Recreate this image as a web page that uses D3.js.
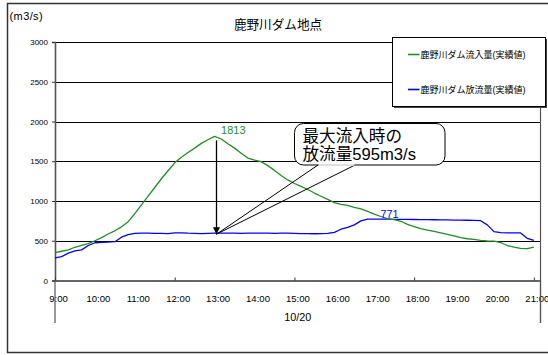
<!DOCTYPE html>
<html lang="ja">
<head>
<meta charset="utf-8">
<script src="https://cdn.jsdelivr.net/npm/d3@7"></script>
<style>
  html, body { margin: 0; padding: 0; background: #fff; }
  svg { display: block; }
  text { font-family: "Liberation Sans", "Noto Sans CJK JP", sans-serif; }
</style>
</head>
<body>
<div id="chart"></div>
<script>
// 10-minute observations, 10/20 9:00 – 21:00 (m3/s)
const startTime = "09:00";
const stepMinutes = 10;
const inflow = [
  350, 368, 385, 418, 443, 465,
  500, 540, 585, 625, 675, 740,
  840, 950, 1060, 1170, 1280, 1380,
  1480, 1550, 1610, 1665, 1725, 1770,
  1813, 1780, 1720, 1665, 1600, 1540,
  1515, 1495, 1445, 1385, 1320, 1265,
  1220, 1185, 1145, 1100, 1060, 1020,
  980, 958, 945, 920, 900, 870,
  835, 805, 778, 765, 745, 705,
  678, 652, 635, 618, 600, 580,
  560, 538, 525, 518, 505, 497,
  495, 478, 440, 420, 405, 400,
  420
];
const outflow = [
  285, 300, 345, 372, 385, 440,
  475, 480, 482, 488, 545, 578,
  592, 595, 595, 594, 592, 590,
  600, 598, 595, 594, 590, 592,
  595, 596, 595, 595, 594, 595,
  596, 595, 595, 594, 595, 595,
  592, 590, 590, 588, 590, 592,
  605, 645, 668, 700, 750, 771,
  771, 771, 771, 770, 770, 769,
  767, 766, 765, 764, 763, 762,
  760, 759, 758, 756, 752, 700,
  615, 602, 600, 600, 598, 530,
  505
];
const yTicks = [0, 500, 1000, 1500, 2000, 2500, 3000];
const hourLabels = ["9:00","10:00","11:00","12:00","13:00","14:00","15:00","16:00","17:00","18:00","19:00","20:00","21:00"];
const dateLabel = "10/20";
const titleText = "鹿野川ダム地点";
const unitText = "(m3/s)";
const seriesNames = ["鹿野川ダム流入量(実績値)", "鹿野川ダム放流量(実績値)"];
const calloutLines = ["最大流入時の", "放流量595m3/s"];

const W = 548, H = 355;
const green = "#1f8f1f", blue = "#0000ff";

const parseT = d3.timeParse("%Y-%m-%d %H:%M");
const t0 = parseT("2000-10-20 " + startTime);
const timeAt = i => d3.timeMinute.offset(t0, i * stepMinutes);
const tEnd = d3.timeMinute.offset(t0, 730);

const x = d3.scaleTime().domain([t0, tEnd]).range([55, 540.5]);
const y = d3.scaleLinear().domain([0, 3000]).range([280.5, 42]);

const svg = d3.select("#chart").append("svg").attr("width", W).attr("height", H);

// chart frame
svg.append("rect").attr("x", 7.5).attr("y", 3.5).attr("width", 600).attr("height", 349)
  .attr("fill", "#fff").attr("stroke", "#333").attr("stroke-width", 1.5);

// title and unit
svg.append("text").attr("x", 278).attr("y", 28.5).attr("text-anchor", "middle")
  .attr("font-size", 12.6).attr("fill", "#000").text(titleText);
svg.append("text").attr("x", 9.5).attr("y", 19.5).attr("font-size", 11)
  .attr("letter-spacing", 0.4).attr("fill", "#000").text(unitText);

// horizontal gridlines
svg.append("g").selectAll("line").data(yTicks.filter(v => v > 0)).join("line")
  .attr("x1", x.range()[0]).attr("x2", x.range()[1])
  .attr("y1", d => Math.round(y(d)) + 0.5).attr("y2", d => Math.round(y(d)) + 0.5)
  .attr("stroke", "#000").attr("stroke-width", 1);

// plot right border
svg.append("line").attr("x1", 540.5).attr("x2", 540.5).attr("y1", y(3000)).attr("y2", 323)
  .attr("stroke", "#555").attr("stroke-width", 1.2);

// y axis
const yAxis = d3.axisLeft(y).tickValues(yTicks).tickFormat(d3.format("d")).tickSize(3).tickPadding(4);
const gy = svg.append("g").attr("transform", "translate(55,0)").call(yAxis);
gy.select(".domain").attr("stroke", "#555").attr("stroke-width", 1.6);
gy.selectAll(".tick line").attr("stroke", "#333");
gy.selectAll(".tick text").attr("font-size", 8).attr("font-family", "Liberation Sans, sans-serif")
  .attr("fill", "#000");

// x axis: major ticks every 3 hours, hourly labels
const hourTimes = hourLabels.map((_, i) => d3.timeHour.offset(t0, i));
const xAxis = d3.axisBottom(x).tickValues(hourTimes.filter((_, i) => i % 3 === 0))
  .tickSize(-3).tickFormat("").tickSizeOuter(0);
const gx = svg.append("g").attr("transform", "translate(0,280.5)").call(xAxis);
gx.select(".domain").attr("stroke", "#333").attr("stroke-width", 1.6);
gx.selectAll(".tick line").attr("stroke", "#333");

svg.append("g").selectAll("text").data(hourLabels).join("text")
  .attr("x", (d, i) => x(hourTimes[i]) + 3.5).attr("y", 301.5)
  .attr("text-anchor", "middle").attr("font-size", 9.6).attr("fill", "#000").text(d => d);

// date group dividers and label
svg.append("g").selectAll("line").data([x.range()[0], 540.5]).join("line")
  .attr("x1", d => d).attr("x2", d => d).attr("y1", 280).attr("y2", 323)
  .attr("stroke", "#555").attr("stroke-width", 1.2);
svg.append("text").attr("x", (x.range()[0] + 540.5) / 2).attr("y", 320.5)
  .attr("text-anchor", "middle").attr("font-size", 10.8).attr("fill", "#000").text(dateLabel);

// series lines
const line = d3.line().x((d, i) => x(timeAt(i))).y(d => y(d));
svg.append("path").datum(outflow).attr("d", line).attr("fill", "none")
  .attr("stroke", blue).attr("stroke-width", 1.3).attr("stroke-linejoin", "round");
svg.append("path").datum(inflow).attr("d", line).attr("fill", "none")
  .attr("stroke", green).attr("stroke-width", 1.3).attr("stroke-linejoin", "round");

// value labels
const peakIdx = inflow.indexOf(d3.max(inflow));
const peakT = timeAt(peakIdx);
svg.append("text").attr("x", x(peakT) + 6.5).attr("y", 134).attr("font-size", 11)
  .attr("fill", green).text(d3.max(inflow));
const outMax = d3.max(outflow);
const outMaxIdx = outflow.indexOf(outMax);
svg.append("text").attr("x", x(timeAt(outMaxIdx)) + 22).attr("y", 217.5)
  .attr("text-anchor", "middle").attr("font-size", 10.8).attr("fill", blue).text(outMax);

// arrow from peak inflow down to the outflow at that time
const ax = Math.round(x(peakT)) + 1.5;
const tipY = y(outflow[peakIdx]) + 1;
svg.append("defs").append("marker").attr("id", "arrowhead")
  .attr("viewBox", "0 0 10 10").attr("refX", 10).attr("refY", 5)
  .attr("markerWidth", 7).attr("markerHeight", 7).attr("markerUnits", "userSpaceOnUse")
  .attr("orient", "auto")
  .append("path").attr("d", "M0,0 L10,5 L0,10 Z").attr("fill", "#000");
svg.append("line").attr("x1", ax).attr("x2", ax).attr("y1", y(inflow[peakIdx]) + 4).attr("y2", tipY)
  .attr("stroke", "#000").attr("stroke-width", 1.3).attr("marker-end", "url(#arrowhead)");

// callout: rounded box with a wedge pointing at the arrow tip
const box = { x: 294.5, y: 123.5, w: 150.5, h: 41.5, r: 9 };
svg.append("rect").attr("x", box.x).attr("y", box.y).attr("width", box.w).attr("height", box.h)
  .attr("rx", box.r).attr("fill", "#fff").attr("stroke", "#000").attr("stroke-width", 1);
svg.append("path")
  .attr("d", `M318,${box.y + box.h} L${ax},${tipY} L355,${box.y + box.h}`)
  .attr("fill", "none").attr("stroke", "#000").attr("stroke-width", 1);
svg.append("line").attr("x1", 318.5).attr("x2", 354.5).attr("y1", box.y + box.h).attr("y2", box.y + box.h)
  .attr("stroke", "#fff").attr("stroke-width", 1.6);
svg.append("g").selectAll("text").data(calloutLines).join("text")
  .attr("x", 302.5).attr("y", (d, i) => 141.5 + i * 18.3)
  .attr("font-size", 16.6).attr("fill", "#000").text(d => d);

// legend
const lg = svg.append("g");
lg.append("rect").attr("x", 394).attr("y", 39).attr("width", 153).attr("height", 69).attr("fill", "#444");
lg.append("rect").attr("x", 392.5).attr("y", 37.5).attr("width", 153).attr("height", 69)
  .attr("fill", "#fff").attr("stroke", "#000").attr("stroke-width", 1);
const legendRows = [{ name: seriesNames[0], color: green, y: 54.5 }, { name: seriesNames[1], color: blue, y: 89.5 }];
legendRows.forEach(r => {
  lg.append("line").attr("x1", 408).attr("x2", 419.5).attr("y1", r.y).attr("y2", r.y)
    .attr("stroke", r.color).attr("stroke-width", 1.6);
  lg.append("text").attr("x", 420.5).attr("y", r.y + 3.3).attr("font-size", 9)
    .attr("font-family", "Noto Sans CJK JP, sans-serif").attr("fill", "#000").text(r.name);
});
</script>
</body>
</html>
